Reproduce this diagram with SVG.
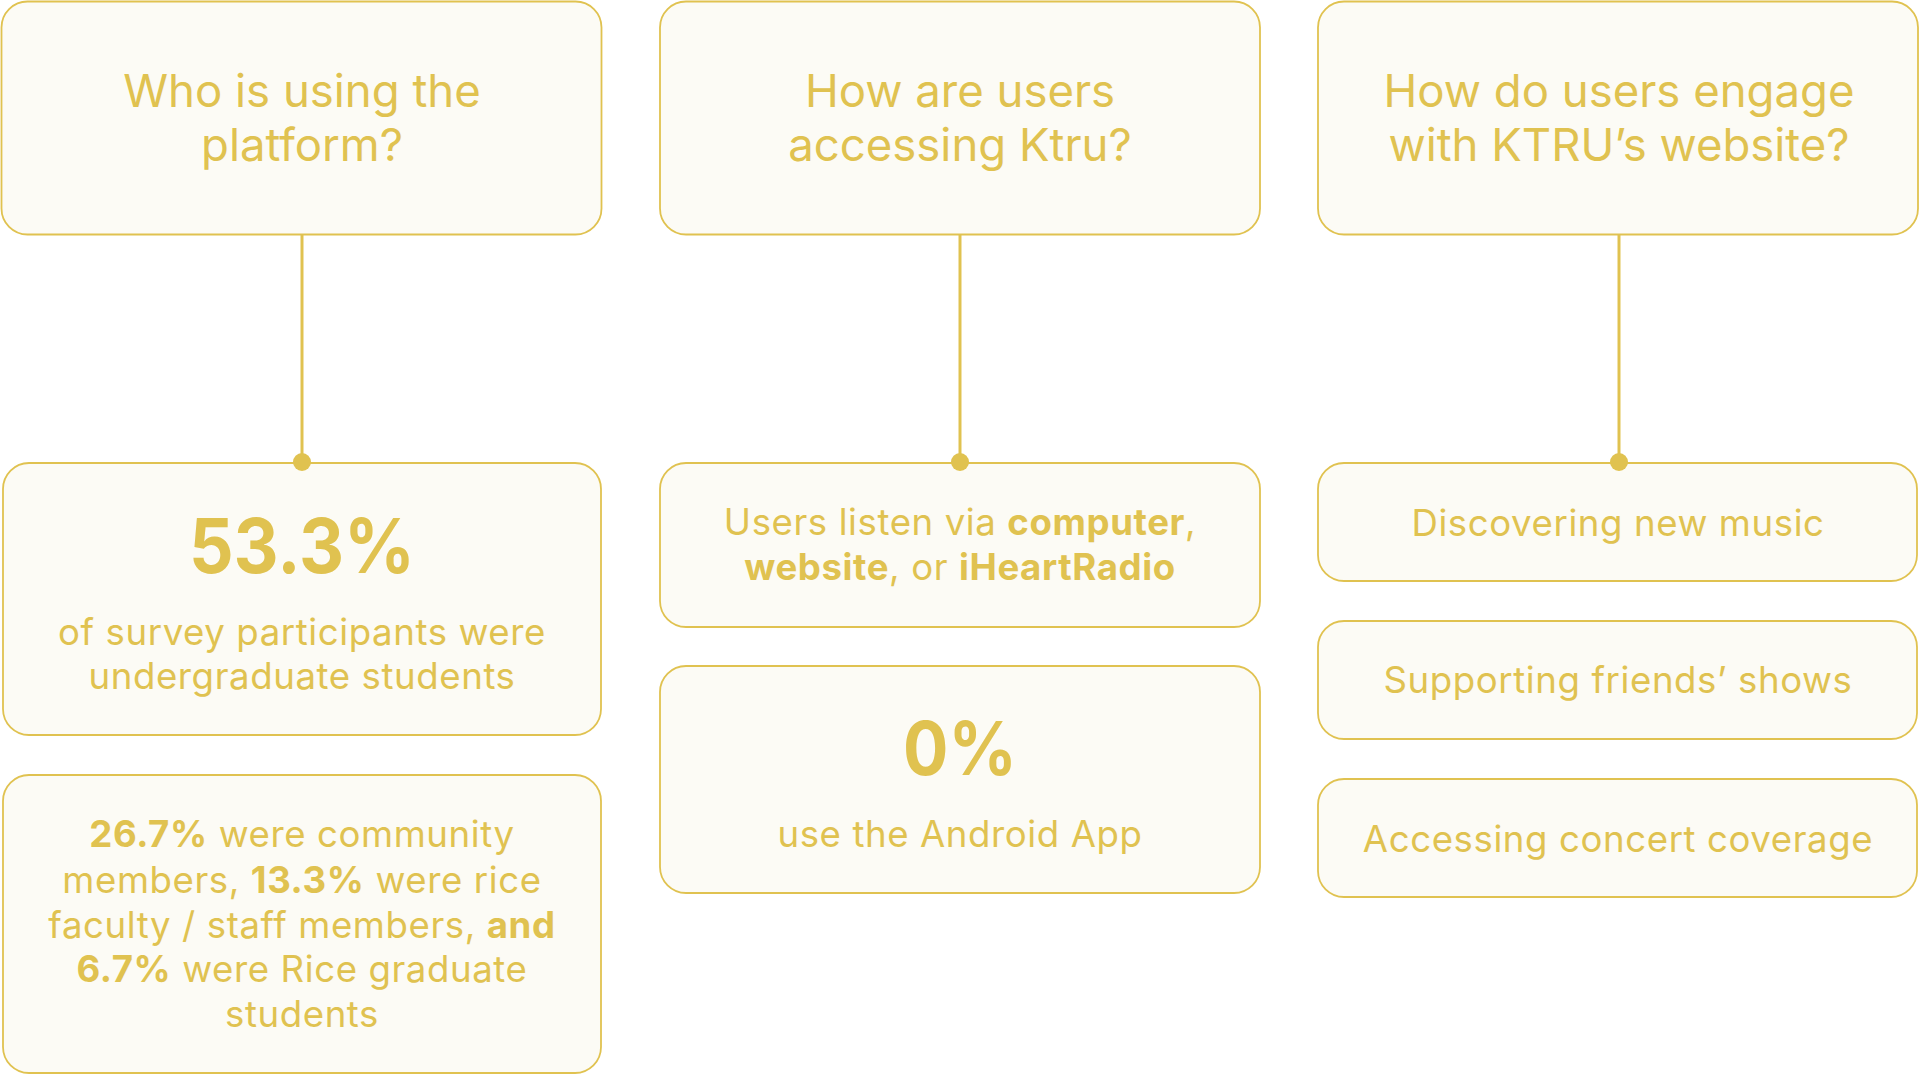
<svg xmlns="http://www.w3.org/2000/svg" width="1920" height="1075" viewBox="0 0 1920 1075">
<style>
.box{fill:#FCFBF5;stroke:#E0C250;stroke-width:1.8}
text{font-family:Inter,"Noto Sans",sans-serif;fill:#E0C250;text-anchor:middle}
.t{font-size:45.5px}
.b{font-size:36.6px;letter-spacing:0.6px}
.big{font-size:76px;font-weight:700}
.bold{font-weight:700}
.con{stroke:#E0C250;stroke-width:3;fill:none}
.dot{fill:#E0C250}
</style>
<rect width="1920" height="1075" fill="#FFFFFF"/>
<g id="q1">
<rect class="box" x="1.5" y="1.5" width="600" height="233" rx="26"/>
<text class="t" x="302" y="107">Who is using the</text>
<text class="t" x="302" y="161">platform?</text>
</g>
<g id="q2">
<rect class="box" x="660" y="1.5" width="600" height="233" rx="26"/>
<text class="t" x="960" y="107">How are users</text>
<text class="t" x="960" y="161">accessing Ktru?</text>
</g>
<g id="q3">
<rect class="box" x="1318" y="1.5" width="600" height="233" rx="26"/>
<text class="t" x="1619" y="107">How do users engage</text>
<text class="t" x="1619" y="161">with KTRU’s website?</text>
</g>
<g id="a1">
<rect class="box" x="3" y="463" width="598" height="272" rx="26"/>
<text class="big" transform="translate(302,573) scale(0.92,1)" x="0" y="0">53.3%</text>
<text class="b" x="302" y="645">of survey participants were</text>
<text class="b" x="302" y="689">undergraduate students</text>
</g>
<g id="a1b">
<rect class="box" x="3" y="775" width="598" height="298" rx="26"/>
<text class="b" x="302" y="847"><tspan class="bold">26.7%</tspan> were community</text>
<text class="b" x="302" y="893">members, <tspan class="bold">13.3%</tspan> were rice</text>
<text class="b" x="302" y="938">faculty / staff members, <tspan class="bold">and</tspan></text>
<text class="b" x="302" y="982"><tspan class="bold">6.7%</tspan> were Rice graduate</text>
<text class="b" x="302" y="1027">students</text>
</g>
<g id="a2">
<rect class="box" x="660" y="463" width="600" height="164" rx="26"/>
<text class="b" x="960" y="535">Users listen via <tspan class="bold">computer</tspan>,</text>
<text class="b" x="960" y="580"><tspan class="bold">website</tspan>, or <tspan class="bold">iHeartRadio</tspan></text>
</g>
<g id="a2b">
<rect class="box" x="660" y="666" width="600" height="227" rx="26"/>
<text class="big" transform="translate(960,775) scale(0.91,1)" x="0" y="0" style="font-size:74px">0%</text>
<text class="b" x="960" y="847">use the Android App</text>
</g>
<g id="a3">
<rect class="box" x="1318" y="463" width="599" height="118" rx="26"/>
<text class="b" x="1618" y="536">Discovering new music</text>
</g>
<g id="a3b">
<rect class="box" x="1318" y="621" width="599" height="118" rx="26"/>
<text class="b" x="1618" y="693">Supporting friends’ shows</text>
</g>
<g id="a3c">
<rect class="box" x="1318" y="779" width="599" height="118" rx="26"/>
<text class="b" x="1618" y="852">Accessing concert coverage</text>
</g>
<g id="connectors">
<line class="con" x1="302" y1="235" x2="302" y2="462"/>
<circle class="dot" cx="302" cy="462" r="9"/>
<line class="con" x1="960" y1="235" x2="960" y2="462"/>
<circle class="dot" cx="960" cy="462" r="9"/>
<line class="con" x1="1619" y1="235" x2="1619" y2="462"/>
<circle class="dot" cx="1619" cy="462" r="9"/>
</g>
</svg>
